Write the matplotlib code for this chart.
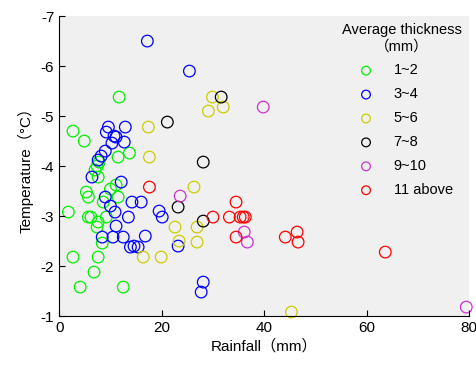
import numpy as np
import matplotlib
matplotlib.use('Agg')
import matplotlib.pyplot as plt

plt.rcParams['font.family'] = ['Liberation Sans', 'Noto Sans CJK SC', 'DejaVu Sans']
plt.rcParams['axes.unicode_minus'] = False

# 平均厚度分组: (降雨量 mm, 温度 °C)
g12_x = [11.7, 2.7, 4.9, 13.7, 11.5, 7.8, 7.4, 7.0, 7.6, 5.3, 5.7, 10.0, 11.1, 11.5, 8.6,
         1.8, 5.7, 6.2, 9.2, 7.6, 7.4, 8.4, 2.7, 7.6, 6.8, 4.1, 12.5]
g12_y = [-5.38, -4.70, -4.50, -4.26, -4.18, -4.08, -4.00, -3.92, -3.78, -3.48, -3.38, -3.54, -3.62, -3.38, -3.28,
         -3.08, -2.98, -2.98, -2.98, -2.88, -2.78, -2.46, -2.18, -2.18, -1.88, -1.58, -1.58]

g34_x = [17.2, 25.4, 9.6, 12.9, 9.2, 10.7, 11.1, 10.3, 12.7, 9.0, 8.2, 7.6, 6.4, 12.1, 9.0, 10.0,
         10.9, 14.2, 16.0, 13.5, 19.5, 20.1, 11.1, 8.4, 10.5, 12.5, 16.8, 13.9, 14.6, 15.4, 23.2, 28.1, 27.7]
g34_y = [-6.50, -5.90, -4.78, -4.78, -4.68, -4.60, -4.58, -4.46, -4.48, -4.30, -4.20, -4.12, -3.78, -3.68, -3.38, -3.20,
         -3.08, -3.28, -3.28, -2.98, -3.10, -2.98, -2.80, -2.58, -2.58, -2.58, -2.60, -2.38, -2.40, -2.38, -2.40, -1.68, -1.48]

g56_x = [29.9, 29.1, 32.0, 17.4, 17.6, 26.3, 22.6, 26.9, 23.4, 26.9, 16.4, 19.9, 45.3]
g56_y = [-5.38, -5.10, -5.18, -4.78, -4.18, -3.58, -2.78, -2.78, -2.50, -2.48, -2.18, -2.18, -1.08]

g78_x = [31.6, 21.1, 28.1, 23.2, 28.1]
g78_y = [-5.38, -4.88, -4.08, -3.18, -2.90]

g910_x = [39.8, 23.6, 36.1, 36.7, 79.4]
g910_y = [-5.18, -3.40, -2.68, -2.48, -1.18]

g11_x = [17.6, 30.0, 34.5, 33.2, 35.3, 35.9, 36.3, 34.5, 44.1, 46.4, 46.6, 63.6]
g11_y = [-3.58, -2.98, -3.28, -2.98, -2.98, -2.98, -2.98, -2.58, -2.58, -2.68, -2.48, -2.28]

groups = [
    ('1~2', g12_x, g12_y, '#00f000'),
    ('3~4', g34_x, g34_y, '#0000ff'),
    ('5~6', g56_x, g56_y, '#cccc00'),
    ('7~8', g78_x, g78_y, '#000000'),
    ('9~10', g910_x, g910_y, '#cc33cc'),
    ('11 above', g11_x, g11_y, '#ff0000'),
]

fig = plt.figure(figsize=(4.77, 3.65), dpi=100)
ax = fig.add_axes([0.124, 0.134, 0.86, 0.822])
ax.set_facecolor('#f0f0f0')

for name, xs, ys, c in groups:
    ax.scatter(xs, ys, s=70, facecolors='none', edgecolors=c, linewidths=0.9, label=name, clip_on=False)

ax.set_xlim(0, 80)
ax.set_ylim(-1, -7)
ax.set_xticks([0, 20, 40, 60, 80])
ax.set_yticks([-1, -2, -3, -4, -5, -6, -7])
ax.tick_params(direction='in', length=4, labelsize=11)
ax.spines['top'].set_visible(False)
ax.spines['right'].set_visible(False)

ax.set_xlabel('Rainfall（mm）', fontsize=11, labelpad=3)
ax.set_ylabel('Temperature（°C）', fontsize=11, labelpad=5)

leg = ax.legend(title='Average thickness\n（mm）', loc='upper right', frameon=False,
                fontsize=10.5, title_fontsize=10.5, markerscale=0.75,
                labelspacing=0.68, handletextpad=0.9, borderaxespad=0.1,
                bbox_to_anchor=(1.0, 1.0))
leg.get_title().set_multialignment('center')

fig.savefig('out.png', dpi=100)
